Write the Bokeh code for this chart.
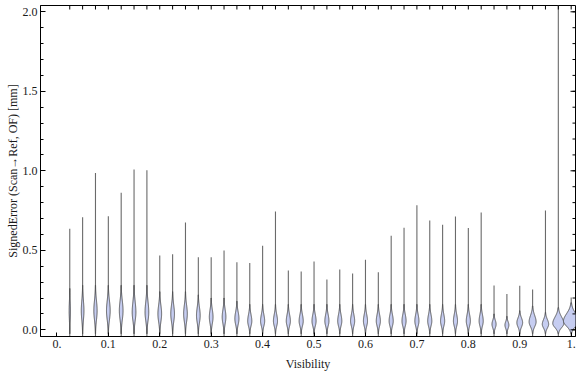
import numpy as np
from bokeh.plotting import figure
from bokeh.models import FixedTicker, Range1d, ColumnDataSource
from bokeh.embed import file_html
from bokeh.resources import INLINE

# ---- data ----
visibility = [0.025, 0.05, 0.075, 0.1, 0.125, 0.15, 0.175, 0.2, 0.225, 0.25,
              0.275, 0.3, 0.325, 0.35, 0.375, 0.4, 0.425, 0.45, 0.475, 0.5,
              0.525, 0.55, 0.575, 0.6, 0.625, 0.65, 0.675, 0.7, 0.725, 0.75,
              0.775, 0.8, 0.825, 0.85, 0.875, 0.9, 0.925, 0.95, 0.975, 1.0]

err_max = [0.635, 0.708, 0.987, 0.714, 0.862, 1.008, 1.004, 0.467, 0.475, 0.675,
           0.457, 0.457, 0.499, 0.425, 0.421, 0.528, 0.744, 0.373, 0.367, 0.430,
           0.316, 0.379, 0.354, 0.440, 0.362, 0.591, 0.642, 0.784, 0.687, 0.660,
           0.713, 0.641, 0.738, 0.279, 0.226, 0.277, 0.253, 0.750, 2.300, 0.203]

err_min = [-0.07] * 40

body_low = [-0.025] * 40

body_mode = [0.12, 0.12, 0.12, 0.12, 0.12, 0.11, 0.11, 0.10, 0.10, 0.10,
             0.09, 0.08, 0.08, 0.07, 0.055, 0.055, 0.055, 0.055, 0.055, 0.055,
             0.055, 0.055, 0.055, 0.055, 0.055, 0.055, 0.055, 0.055, 0.055, 0.055,
             0.055, 0.055, 0.055, 0.035, 0.03, 0.045, 0.05, 0.035, 0.04, 0.055]

body_high = [0.26, 0.28, 0.28, 0.28, 0.28, 0.28, 0.28, 0.24, 0.24, 0.24,
             0.22, 0.20, 0.20, 0.18, 0.16, 0.16, 0.16, 0.16, 0.16, 0.16,
             0.16, 0.16, 0.16, 0.16, 0.16, 0.16, 0.16, 0.16, 0.16, 0.16,
             0.16, 0.16, 0.16, 0.10, 0.085, 0.12, 0.15, 0.11, 0.14, 0.17]

body_halfwidth = [0.0012, 0.0026, 0.0032, 0.0036, 0.0036, 0.0036, 0.0036, 0.0036, 0.0036, 0.0036,
                  0.0036, 0.0036, 0.0036, 0.0040, 0.0040, 0.0040, 0.0040, 0.0040, 0.0040, 0.0040,
                  0.0040, 0.0040, 0.0040, 0.0040, 0.0040, 0.0040, 0.0040, 0.0040, 0.0040, 0.0040,
                  0.0040, 0.0040, 0.0040, 0.0040, 0.0038, 0.0056, 0.0068, 0.0062, 0.0108, 0.0150]

x_tick_values = [0.0, 0.1, 0.2, 0.3, 0.4, 0.5, 0.6, 0.7, 0.8, 0.9, 1.0]
x_tick_labels = ["0.", "0.1", "0.2", "0.3", "0.4", "0.5", "0.6", "0.7", "0.8", "0.9", "1."]
y_tick_values = [0.0, 0.5, 1.0, 1.5, 2.0]
y_tick_labels = ["0.0", "0.5", "1.0", "1.5", "2.0"]
y_minor_ticks = [0.0, 0.1, 0.2, 0.3, 0.4, 0.5, 0.6, 0.7, 0.8, 0.9, 1.0,
                 1.1, 1.2, 1.3, 1.4, 1.5, 1.6, 1.7, 1.8, 1.9, 2.0]

FONT = "Liberation Serif"
TXT = "#1a1a1a"

X0, X1 = -0.0319, 1.0084
Y0, Y1 = -0.042, 2.0396

# ---- figure ----
p = figure(width=576, height=375, output_backend="svg", toolbar_location=None,
           x_range=Range1d(X0, X1), y_range=Range1d(Y0, Y1),
           min_border_left=40, min_border_right=1, min_border_top=5, min_border_bottom=39,
           x_axis_label="Visibility", y_axis_label="SignedError (Scan\u2192Ref, OF) [mm]")
p.grid.visible = False
p.outline_line_color = "black"
p.outline_line_width = 1
p.background_fill_color = "white"
p.border_fill_color = "white"

# whiskers
src = ColumnDataSource(dict(x=visibility, y0=err_min, y1=err_max))
p.segment(x0="x", y0="y0", x1="x", y1="y1", source=src,
          line_color="#6a6a6a", line_width=1.1)

# violin bodies
xs, ys = [], []
for x, lo, m, hi, hw in zip(visibility, body_low, body_mode, body_high, body_halfwidth):
    yy = np.linspace(lo, hi, 90)
    s_lo = (m - lo) / 2.5
    s_hi = (hi - m) / 2.5
    s = np.where(yy < m, s_lo, s_hi)
    h = hw * np.exp(-0.5 * ((yy - m) / s) ** 2)
    xs.append(list(np.concatenate([x - h, (x + h)[::-1]])))
    ys.append(list(np.concatenate([yy, yy[::-1]])))
p.patches(xs, ys, fill_color="#c6cdf1", line_color="#4a4a4a", line_width=0.9)

# frame ticks on top (at each category) and right (mirroring the left axis);
# markers sit on the frame edge and are clipped so only the inner half shows
p.scatter(x=visibility, y=[Y1] * len(visibility), marker="dash", angle=np.pi / 2,
          size=8, line_color="black", line_width=1)
p.scatter(x=[X1] * len(y_minor_ticks), y=y_minor_ticks, marker="dash",
          size=6, line_color="black", line_width=1)
p.scatter(x=[X1] * len(y_tick_values), y=y_tick_values, marker="dash",
          size=10, line_color="black", line_width=1)

# ---- axes ----
def style(ax):
    ax.axis_line_color = "black"
    ax.major_tick_line_color = "black"
    ax.minor_tick_line_color = "black"
    ax.major_tick_out = 0
    ax.minor_tick_out = 0
    ax.major_label_text_font = FONT
    ax.major_label_text_font_size = "12px"
    ax.major_label_text_color = TXT
    ax.axis_label_text_font = FONT
    ax.axis_label_text_font_size = "12px"
    ax.axis_label_text_font_style = "normal"
    ax.axis_label_text_color = TXT

xa = p.xaxis[0]
style(xa)
xa.ticker = FixedTicker(ticks=x_tick_values, minor_ticks=[])
xa.major_label_overrides = {v: s for v, s in zip(x_tick_values, x_tick_labels)}
xa.major_tick_in = 4
xa.minor_tick_in = 0
xa.major_label_standoff = 3
xa.axis_label_standoff = 6

ya = p.yaxis[0]
style(ya)
ya.ticker = FixedTicker(ticks=y_tick_values, minor_ticks=y_minor_ticks)
ya.major_label_overrides = {v: s for v, s in zip(y_tick_values, y_tick_labels)}
ya.major_tick_in = 5
ya.minor_tick_in = 3
ya.major_label_standoff = 3
ya.axis_label_standoff = 0

open("out.html", "w").write(file_html(p, INLINE))
